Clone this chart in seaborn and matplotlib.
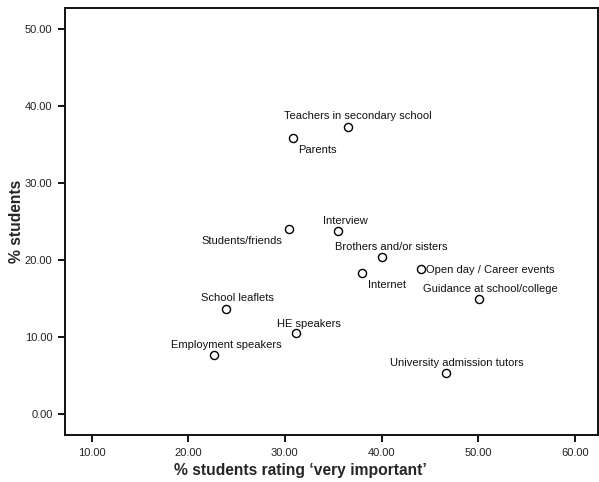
import matplotlib
matplotlib.use("Agg")
import matplotlib.pyplot as plt
import seaborn as sns
import pandas as pd

# Sources of information: % rating 'very important' vs % of students
sources = [
    "Teachers in secondary school", "Parents", "Students/friends", "Interview",
    "Brothers and/or sisters", "Internet", "Open day / Career events",
    "Guidance at school/college", "University admission tutors", "HE speakers",
    "School leaflets", "Employment speakers",
]
pct_very_important = [36.5, 30.8, 30.4, 35.5, 40.0, 38.0, 44.1, 50.1, 46.7, 31.2, 23.9, 22.7]
pct_students = [37.3, 35.9, 24.0, 23.8, 20.4, 18.3, 18.9, 15.0, 5.3, 10.5, 13.7, 7.7]

x_ticks = [10, 20, 30, 40, 50, 60]
y_ticks = [0, 10, 20, 30, 40, 50]

df = pd.DataFrame({"source": sources, "x": pct_very_important, "y": pct_students})

# label placement: (dx px, dy px, horizontal alignment)
label_place = {
    "Teachers in secondary school": (10, 11, "center"),
    "Parents": (6, -12, "left"),
    "Students/friends": (-6, -12, "right"),
    "Interview": (7, 10, "center"),
    "Brothers and/or sisters": (10, 10, "center"),
    "Internet": (6, -12, "left"),
    "Open day / Career events": (5, -1.5, "left"),
    "Guidance at school/college": (11, 10, "center"),
    "University admission tutors": (11, 10, "center"),
    "HE speakers": (12, 9.5, "center"),
    "School leaflets": (11.5, 10.5, "center"),
    "Employment speakers": (12, 9.5, "center"),
}

sns.set_style("ticks")
plt.rcParams["font.family"] = ["Liberation Sans", "DejaVu Sans"]

fig = plt.figure(figsize=(5.99, 4.82), dpi=100)
ax = fig.add_axes([65 / 599, 47 / 482, 533 / 599, 427 / 482])

sns.scatterplot(data=df, x="x", y="y", ax=ax, marker="o", s=34,
                facecolor="white", edgecolor="black", linewidth=1.0, zorder=3)

for name, xv, yv in zip(sources, pct_very_important, pct_students):
    dx, dy, ha = label_place[name]
    ax.annotate(name, (xv, yv), xytext=(dx, dy), textcoords="offset pixels",
                ha=ha, va="center", fontsize=8, color="#111111")

ax.set_xlim(7.25, 62.4)
ax.set_ylim(-2.73, 52.77)
ax.set_xticks(x_ticks)
ax.set_yticks(y_ticks)
ax.set_xticklabels([f"{v:.2f}" for v in x_ticks])
ax.set_yticklabels([f"{v:.2f}" for v in y_ticks])
ax.tick_params(axis="both", direction="out", length=5, width=1.3,
               labelsize=8, colors="black", labelcolor="#222222", pad=4)
ax.tick_params(axis="x", pad=4.5)

for side in ["left", "bottom", "top", "right"]:
    ax.spines[side].set_visible(True)
    ax.spines[side].set_linewidth(1.4)
    ax.spines[side].set_color("#111111")

ax.set_xlabel("% students rating \u2018very important\u2019", fontsize=11.25,
              fontweight="bold", va="center")
ax.set_ylabel("% students", fontsize=11.25, fontweight="bold", va="center")
ax.xaxis.set_label_coords((300 - 65) / 533, (435 - 471) / 427)
ax.yaxis.set_label_coords((17 - 65) / 533, 0.5)

fig.savefig("out.png", dpi=100, facecolor="white")
